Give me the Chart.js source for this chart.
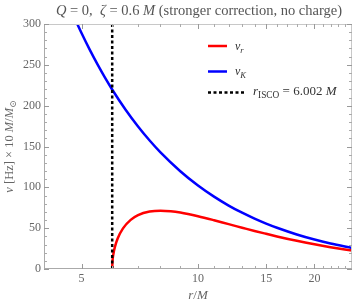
<!DOCTYPE html>
<html>
<head>
<meta charset="utf-8">
<script src="https://cdn.jsdelivr.net/npm/chart.js@4"></script>
<style>
  html, body { margin: 0; padding: 0; background: #fff; }
  canvas { display: block; }
</style>
</head>
<body>
<canvas id="myChart" width="353" height="305"></canvas>
<script>
// radius r/M and frequencies (Hz, M = 10 Msun)
const radiusK = [4.8, 5, 5.25, 5.5, 5.75, 6, 6.5, 7, 7.5, 8, 9, 10, 11, 12, 13, 14, 15, 16, 18, 20, 22, 25];
const nuK = [307, 289, 268.6, 250.5, 234.3, 219.8, 195, 174.5, 157.3, 142.8, 119.7, 102.2, 88.6, 77.7, 68.9, 61.7, 55.6, 50.5, 42.3, 36.1, 31.3, 25.8];

const radiusR = [6.002, 6.01, 6.05, 6.1, 6.2, 6.4, 6.7, 7, 7.5, 8, 8.5, 9, 10, 11, 12, 13, 14, 15, 16, 18, 20, 22, 25];
const nuR = [0, 8, 19.3, 27.1, 37.4, 49.8, 60.1, 65.9, 70.3, 71.4, 70.7, 69.1, 64.6, 59.7, 54.9, 50.6, 46.6, 43.1, 39.9, 34.5, 30.2, 26.7, 22.5];

const rIsco = 6.002;
const xMajor = [5, 10, 15, 20];
const xMinor = [6, 7, 8, 9, 11, 12, 13, 14, 16, 17, 18, 19, 21, 22, 23, 24];
const yMajor = [0, 50, 100, 150, 200, 250, 300];

const FONT = '"Liberation Serif", "DejaVu Serif", serif';

function toPoints(xs, ys) {
    return xs.map(function (x, i) { return { x: x, y: ys[i] }; });
}

// draw text made of parts: {t, i: italic, sub: subscript}
function drawRich(ctx, parts, x, y, size, color, align) {
    var widths = parts.map(function (p) {
        var s = p.sub ? size * 0.72 : size;
        ctx.font = (p.i ? 'italic ' : '') + s + 'px ' + FONT;
        return ctx.measureText(p.t).width;
    });
    var total = widths.reduce(function (a, b) { return a + b; }, 0);
    var cx = x;
    if (align === 'center') cx = x - total / 2;
    if (align === 'right') cx = x - total;
    ctx.fillStyle = color;
    ctx.textBaseline = 'middle';
    ctx.textAlign = 'left';
    parts.forEach(function (p, k) {
        var s = p.sub ? size * 0.72 : size;
        ctx.font = (p.i ? 'italic ' : '') + s + 'px ' + FONT;
        ctx.fillText(p.t, cx, p.sub ? y + size * 0.3 : y);
        cx += widths[k];
    });
    return total;
}

const framePlugin = {
    id: 'frame',
    afterDraw: function (chart) {
        const ctx = chart.ctx;
        const a = chart.chartArea;
        const xs = chart.scales.x;
        const ys = chart.scales.y;
        ctx.save();

        // frame
        ctx.lineWidth = 1;
        ctx.strokeStyle = '#c8c8c8';
        ctx.beginPath();
        ctx.moveTo(a.left, a.top + 0.5); ctx.lineTo(a.right, a.top + 0.5);
        ctx.moveTo(a.right - 0.5, a.top); ctx.lineTo(a.right - 0.5, a.bottom);
        ctx.stroke();
        ctx.strokeStyle = '#aaaaaa';
        ctx.beginPath();
        ctx.moveTo(a.left + 0.5, a.top); ctx.lineTo(a.left + 0.5, a.bottom);
        ctx.moveTo(a.left, a.bottom - 0.5); ctx.lineTo(a.right, a.bottom - 0.5);
        ctx.stroke();

        // x ticks, bottom and top
        function xTick(v, len, col) {
            const px = Math.round(xs.getPixelForValue(v)) + 0.5;
            ctx.strokeStyle = col;
            ctx.beginPath();
            ctx.moveTo(px, a.bottom); ctx.lineTo(px, a.bottom - len);
            ctx.moveTo(px, a.top); ctx.lineTo(px, a.top + len);
            ctx.stroke();
        }
        xMajor.forEach(function (v) { xTick(v, 5, '#999'); });
        xMinor.forEach(function (v) { xTick(v, 3, '#aaa'); });

        // y ticks, left and right
        function yTick(v, len, col) {
            const py = Math.round(ys.getPixelForValue(v)) + 0.5;
            ctx.strokeStyle = col;
            ctx.beginPath();
            ctx.moveTo(a.left, py); ctx.lineTo(a.left + len, py);
            ctx.moveTo(a.right, py); ctx.lineTo(a.right - len, py);
            ctx.stroke();
        }
        for (var v = 0; v <= 300; v += 10) {
            if (v % 50 === 0) yTick(v, 5, '#999');
            else yTick(v, 3, '#aaa');
        }

        // tick labels
        ctx.fillStyle = '#666';
        ctx.font = '12px ' + FONT;
        ctx.textBaseline = 'middle';
        ctx.textAlign = 'right';
        yMajor.forEach(function (v) {
            ctx.fillText(String(v), a.left - 3, ys.getPixelForValue(v));
        });
        ctx.textAlign = 'center';
        xMajor.forEach(function (v) {
            ctx.fillText(String(v), xs.getPixelForValue(v), a.bottom + 10);
        });

        // axis titles
        drawRich(ctx, [{ t: 'r', i: 1 }, { t: '/' }, { t: 'M', i: 1 }],
            (a.left + a.right) / 2, 296, 13, '#666', 'center');
        ctx.save();
        ctx.translate(10, (a.top + a.bottom) / 2);
        ctx.rotate(-Math.PI / 2);
        drawRich(ctx, [{ t: 'ν', i: 1 }, { t: ' [Hz] × 10 ' }, { t: 'M', i: 1 }, { t: '/' }, { t: 'M', i: 1 }, { t: '⊙', sub: 1 }],
            0, 0, 12.5, '#666', 'center');
        ctx.restore();

        // title
        const titleParts = [{ t: 'Q', i: 1 }, { t: ' = 0,  ' }, { t: 'ζ', i: 1 }, { t: ' = 0.6 ' }, { t: 'M', i: 1 }, { t: ' (stronger correction, no charge)' }];
        drawRich(ctx, titleParts, (a.left + a.right) / 2 + 1, 11, 14.5, '#555', 'center');

        // legend
        ctx.lineWidth = 2.5;
        ctx.strokeStyle = '#ff0000';
        ctx.beginPath(); ctx.moveTo(208, 46); ctx.lineTo(227, 46); ctx.stroke();
        ctx.strokeStyle = '#0000ff';
        ctx.beginPath(); ctx.moveTo(208, 71.5); ctx.lineTo(227, 71.5); ctx.stroke();
        ctx.strokeStyle = '#000';
        ctx.setLineDash([3, 2.5]);
        ctx.beginPath(); ctx.moveTo(208, 92.5); ctx.lineTo(244, 92.5); ctx.stroke();
        ctx.setLineDash([]);
        drawRich(ctx, [{ t: 'ν', i: 1 }, { t: 'r', i: 1, sub: 1 }], 235, 47, 12, '#333', 'left');
        drawRich(ctx, [{ t: 'ν', i: 1 }, { t: 'K', i: 1, sub: 1 }], 235, 72, 12, '#333', 'left');
        drawRich(ctx, [{ t: 'r', i: 1 }, { t: 'ISCO', sub: 1 }, { t: ' = 6.002 ' }, { t: 'M', i: 1 }], 253, 92, 13, '#333', 'left');

        ctx.restore();
    }
};

var ctx = document.getElementById('myChart').getContext('2d');
var myChart = new Chart(ctx, {
    type: 'line',
    data: {
        datasets: [
            {
                label: 'ISCO',
                data: [{ x: rIsco, y: 0 }, { x: rIsco, y: 300 }],
                borderColor: '#000',
                borderWidth: 2.5,
                borderDash: [3, 2.5],
                pointRadius: 0
            },
            {
                label: 'nu_r',
                data: toPoints(radiusR, nuR),
                borderColor: '#ff0000',
                borderWidth: 2.5,
                pointRadius: 0,
                cubicInterpolationMode: 'monotone'
            },
            {
                label: 'nu_K',
                data: toPoints(radiusK, nuK),
                borderColor: '#0000ff',
                borderWidth: 2.5,
                pointRadius: 0,
                cubicInterpolationMode: 'monotone'
            }
        ]
    },
    options: {
        responsive: false,
        animation: false,
        layout: { padding: { top: 24, right: 1, left: 0, bottom: 0 } },
        scales: {
            x: {
                type: 'logarithmic',
                min: 4,
                max: 25,
                grid: { display: false },
                border: { display: false },
                ticks: { display: false },
                afterFit: function (scale) { scale.height = 36; }
            },
            y: {
                type: 'linear',
                min: 0,
                max: 300,
                grid: { display: false },
                border: { display: false },
                ticks: { display: false },
                afterFit: function (scale) { scale.width = 44; }
            }
        },
        plugins: {
            legend: { display: false },
            tooltip: { enabled: false }
        }
    },
    plugins: [framePlugin]
});
</script>
</body>
</html>
